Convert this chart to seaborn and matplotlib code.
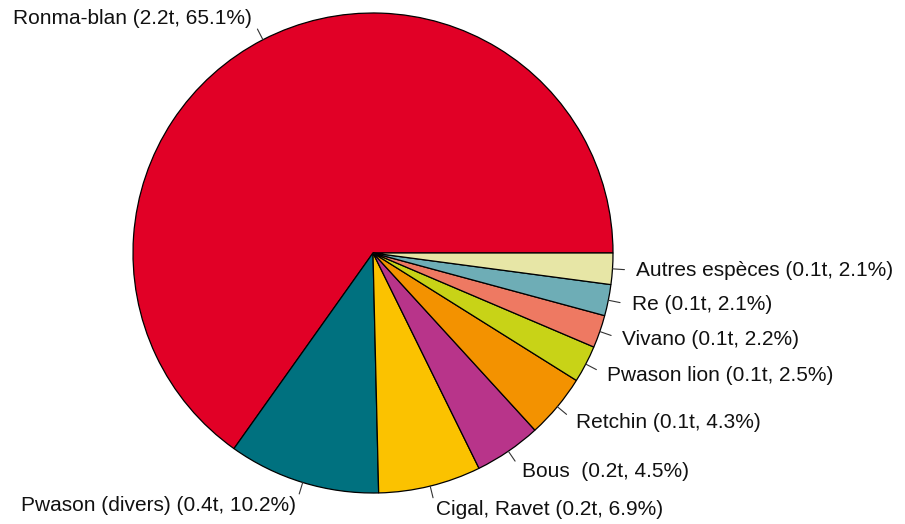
import numpy as np
import seaborn as sns
import matplotlib.pyplot as plt

# catch composition by species
species = ["Ronma-blan", "Pwason (divers)", "Cigal, Ravet", "Bous ", "Retchin",
           "Pwason lion", "Vivano", "Re", "Autres espèces"]
tonnes = [2.2, 0.4, 0.2, 0.2, 0.1, 0.1, 0.1, 0.1, 0.1]
percent = [65.1, 10.2, 6.9, 4.5, 4.3, 2.5, 2.2, 2.1, 2.1]
colours = ["#E10026", "#00717F", "#FBC200", "#B8348A", "#F39200",
           "#C8D317", "#EE7962", "#6EADB6", "#E7E6A6"]

sns.set_style("white")
plt.rcParams['font.family'] = ['Liberation Sans', 'DejaVu Sans']

labels = [f"{s} ({t}t, {p}%)" for s, t, p in zip(species, tonnes, percent)]

fig = plt.figure(figsize=(9.05, 5.24), dpi=100)
ax = fig.add_axes([0, 0, 1, 1])

cx, cy, r = 373, 524 - 253, 240     # pie centre / radius in pixels
wedges, texts = ax.pie(percent, labels=labels, colors=sns.color_palette(colours),
                       center=(cx, cy), radius=r, startangle=0, counterclock=True,
                       labeldistance=1.1,
                       wedgeprops=dict(edgecolor="black", linewidth=0.9),
                       textprops=dict(fontsize=15, color="#111111"))

# small tick lines from the rim to the labels, like R's pie()
for w, t in zip(wedges, texts):
    a = np.deg2rad((w.theta1 + w.theta2) / 2)
    ax.plot([cx + r * np.cos(a), cx + 1.05 * r * np.cos(a)],
            [cy + r * np.sin(a), cy + 1.05 * r * np.sin(a)],
            color="#333333", linewidth=0.8)
    # alignment relative to the pie centre, not the data origin
    t.set_ha("left" if np.cos(a) > 0 else "right")
    t.set_va("center")

ax.set_xlim(0, 905)
ax.set_ylim(0, 524)
ax.set_aspect("equal")
ax.axis("off")

plt.savefig("out.png", dpi=100)
